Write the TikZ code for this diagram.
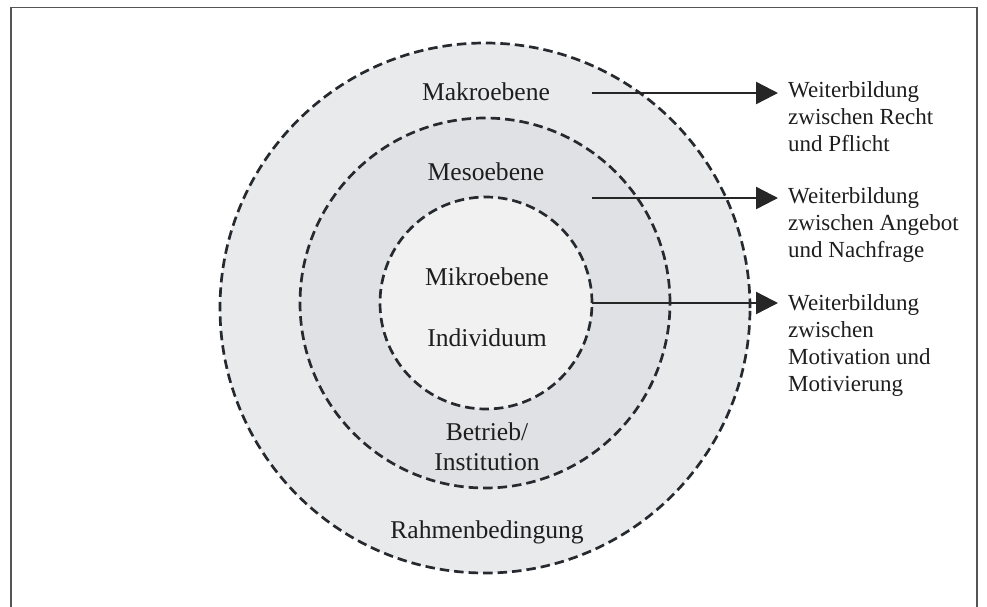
\documentclass[tikz,border=0pt]{standalone}
\usepackage{fontspec}
\setmainfont{Liberation Serif}
\usetikzlibrary{arrows.meta}
\definecolor{ringout}{HTML}{E9EAEC}
\definecolor{ringmid}{HTML}{E0E1E4}
\definecolor{ringin}{HTML}{F1F1F2}
\definecolor{dashcol}{HTML}{262A2F}
\definecolor{txtcol}{HTML}{1E1E1E}
\definecolor{framecol}{HTML}{555555}
\tikzset{
  ring/.style={circle, draw=dashcol, line width=2.7pt, dash pattern=on 9.5pt off 5pt, inner sep=0pt, outer sep=0pt},
  lvl/.style={text=txtcol, font=\fontsize{25.6}{30}\selectfont, align=center, inner sep=0pt},
  side/.style={text=txtcol, font=\fontsize{23}{27}\selectfont, align=left, inner sep=0pt, anchor=north west},
  arr/.style={draw=black!85, line width=2.4pt, -{Triangle[length=22pt,width=22pt]}}
}
\begin{document}
\begin{tikzpicture}[x=1pt,y=-1pt]
\useasboundingbox (0,0) rectangle (987,606);
\fill[white] (0,0) rectangle (987,606);
\draw[framecol, line width=1.5pt] (11,640) -- (11,7.5) -- (977,7.5) -- (977,640);
% rings
\node[ring, fill=ringout, minimum size=530pt] (outer) at (485,308) {};
\node[ring, fill=ringmid, minimum size=370pt] (mid) at (485,303) {};
\node[ring, fill=ringin, minimum size=212pt] (inner) at (486,303) {};
% labels
\node[lvl] (makro) at (486,92) {Makroebene};
\node[lvl] (meso) at (486,172) {Mesoebene};
\node[lvl] (mikro) at (487,277) {Mikroebene};
\node[lvl] (indiv) at (487,338) {Individuum};
\node[lvl] (betrieb) at (487,447) {Betrieb/\\Institution};
\node[lvl] (rahmen) at (487,532) {Rahmenbedingung};
% side texts
\node[side] (t1) at (788,81) {Weiterbildung\\zwischen Recht\\und Pflicht};
\node[side] (t2) at (788,187) {Weiterbildung\\zwischen Angebot\\und Nachfrage};
\node[side] (t3) at (788,294) {Weiterbildung\\zwischen\\Motivation und\\Motivierung};
% arrows
\coordinate (s1) at (592,93);
\coordinate (s2) at (592,198);
\draw[arr] (s1) -- ([xshift=-10pt]s1 -| t1.west);
\draw[arr] (s2) -- ([xshift=-10pt]s2 -| t2.west);
\draw[arr] (inner.east) -- ([xshift=-10pt]inner.east -| t3.west);
\end{tikzpicture}
\end{document}
